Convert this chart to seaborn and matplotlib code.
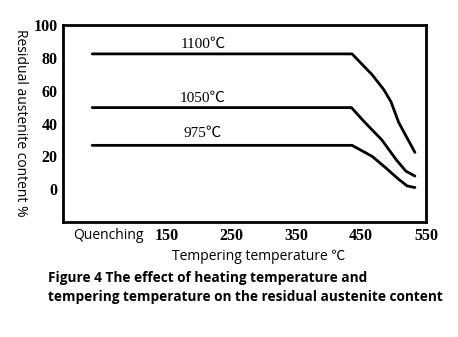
import matplotlib
matplotlib.use("Agg")
import matplotlib.pyplot as plt
import seaborn as sns
import pandas as pd

# Tempering temperature (°C) and residual austenite content (%) per quenching temperature
temp_1100 = [35, 436, 467, 485, 496, 508, 533]
ra_1100 = [82.4, 82.4, 69.7, 60.6, 53.3, 40.6, 22.4]
temp_1050 = [35, 435, 455, 482, 504, 519, 533]
ra_1050 = [49.7, 49.7, 41, 30, 18, 11, 8]
temp_975 = [35, 436, 467, 488, 508, 521, 533]
ra_975 = [26.7, 26.7, 20, 13, 6, 2, 1]

series_names = ["1100℃", "1050℃", "975℃"]
label_pos_x = [206, 206, 206]
label_pos_y = [88, 55.5, 34]

x_ticks = [60, 150, 250, 350, 450, 550]
x_tick_labels = ["Quenching", "150", "250", "350", "450", "550"]
y_ticks = [0, 20, 40, 60, 80, 100]

frames = []
for name, xs, ys in zip(series_names, [temp_1100, temp_1050, temp_975], [ra_1100, ra_1050, ra_975]):
    frames.append(pd.DataFrame({"temp": xs, "ra": ys, "series": name}))
df = pd.concat(frames, ignore_index=True)

sns.set_theme(style="white")
fig = plt.figure(figsize=(4.58, 3.37), dpi=100)
ax = fig.add_axes([0.1376, 0.3412, 0.7924, 0.5846])

sns.lineplot(data=df, x="temp", y="ra", units="series", estimator=None,
             color="black", linewidth=2.0, sort=False, legend=False, ax=ax)

serif = ["Liberation Serif", "DejaVu Serif"]
for name, lx, ly in zip(series_names, label_pos_x, label_pos_y):
    ax.text(lx, ly, name, ha="center", va="center", fontsize=11,
            family=["Liberation Serif", "Noto Sans CJK SC", "DejaVu Sans"], color="black")

ax.set_xlim(-10, 550)
ax.set_ylim(-20, 100)
ax.set_xticks(x_ticks)
ax.set_xticklabels(x_tick_labels)
ax.set_yticks(y_ticks)
ax.set_xlabel("")
ax.set_ylabel("")

for lbl in ax.get_xticklabels():
    if lbl.get_text() == "Quenching":
        lbl.set_family("Open Sans")
        lbl.set_fontsize(10)
    else:
        lbl.set_family(serif)
        lbl.set_fontweight("bold")
        lbl.set_fontsize(11.5)
for lbl in ax.get_yticklabels():
    lbl.set_family(serif)
    lbl.set_fontweight("bold")
    lbl.set_fontsize(11.5)

ax.tick_params(axis="both", direction="in", length=4, width=1.5, colors="black",
               pad=4, labelcolor="black")
for sp in ax.spines.values():
    sp.set_visible(True)
    sp.set_color("black")
    sp.set_linewidth(2.0)

fig.text(0.045, 0.6355, "Residual austenite content %", rotation=270,
         ha="center", va="center", fontsize=10, family="Open Sans", color="black")
fig.text(0.565, 0.24, "Tempering temperature ℃", ha="center", va="center",
         fontsize=10, family=["Open Sans", "Noto Sans CJK SC"], color="black")
fig.text(0.105, 0.146, "Figure 4 The effect of heating temperature and\ntempering temperature on the residual austenite content",
         ha="left", va="center", fontsize=9.8, fontweight="bold",
         family="Open Sans", color="black", linespacing=1.45)

fig.savefig("out.png", dpi=100, facecolor="white")
